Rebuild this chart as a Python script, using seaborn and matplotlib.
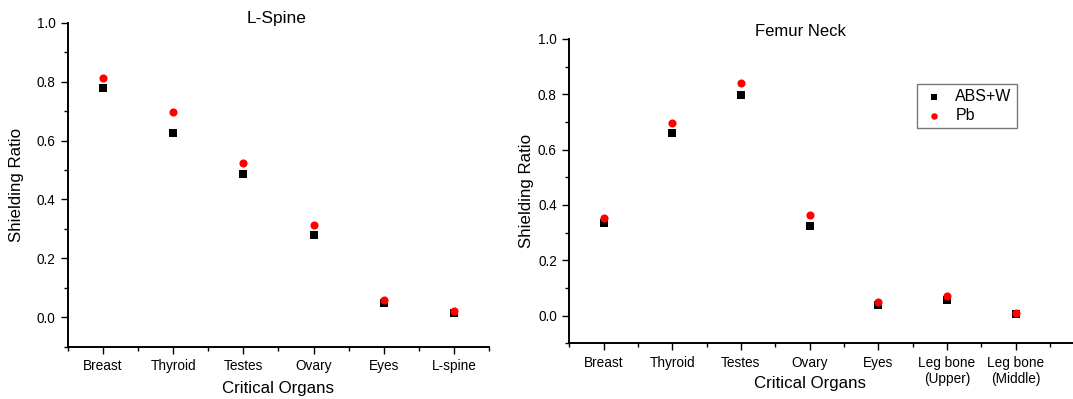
import matplotlib
matplotlib.use("Agg")
import matplotlib.pyplot as plt
from matplotlib.ticker import MultipleLocator, FixedLocator
import seaborn as sns
import pandas as pd

# ---- data ----
organs_l = ["Breast", "Thyroid", "Testes", "Ovary", "Eyes", "L-spine"]
absw_l = [0.779, 0.626, 0.486, 0.278, 0.048, 0.015]
pb_l = [0.811, 0.696, 0.522, 0.312, 0.060, 0.020]

organs_r = ["Breast", "Thyroid", "Testes", "Ovary", "Eyes",
            "Leg bone\n(Upper)", "Leg bone\n(Middle)"]
absw_r = [0.334, 0.662, 0.798, 0.323, 0.037, 0.055, 0.007]
pb_r = [0.353, 0.695, 0.842, 0.362, 0.049, 0.070, 0.011]

series_names = ["ABS+W", "Pb"]
title_l = "L-Spine"
title_r = "Femur Neck"

sns.set_style("ticks")
plt.rcParams["font.family"] = ["Liberation Sans", "DejaVu Sans"]
plt.rcParams["text.color"] = "black"
plt.rcParams["axes.labelcolor"] = "black"
plt.rcParams["xtick.color"] = "black"
plt.rcParams["ytick.color"] = "black"

W, H = 1073, 399
fig = plt.figure(figsize=(W / 100, H / 100), dpi=100)

ax1 = fig.add_axes([68 / W, 1 - 346.7 / H, (489 - 68) / W, (346.7 - 22.7) / H])
ax2 = fig.add_axes([569.3 / W, 1 - 343.3 / H, (W - 569.3) / W, (343.3 - 39) / H])


def draw(ax, organs, a, b, xmax):
    n = len(organs)
    df = pd.DataFrame({
        "organ": organs * 2,
        "x": list(range(n)) * 2,
        "value": a + b,
        "series": [series_names[0]] * n + [series_names[1]] * n,
    })
    sns.scatterplot(data=df[df.series == series_names[0]], x="x", y="value",
                    marker="s", color="black", s=30, linewidth=0, ax=ax,
                    label=series_names[0], zorder=3)
    sns.scatterplot(data=df[df.series == series_names[1]], x="x", y="value",
                    marker="o", color="#ff0000", s=34, linewidth=0, ax=ax,
                    label=series_names[1], zorder=4)
    ax.set_xlim(-0.5, xmax)
    ax.set_ylim(-0.1, 1.0)
    ax.xaxis.set_major_locator(FixedLocator(list(range(n))))
    ax.set_xticklabels(organs)
    ax.xaxis.set_minor_locator(FixedLocator([i - 0.5 for i in range(n + 1)]))
    ax.yaxis.set_major_locator(MultipleLocator(0.2))
    ax.yaxis.set_minor_locator(MultipleLocator(0.1))
    ax.set_yticks([0.0, 0.2, 0.4, 0.6, 0.8, 1.0])
    ax.set_yticklabels(["0.0", "0.2", "0.4", "0.6", "0.8", "1.0"])
    ax.tick_params(axis="both", which="major", direction="out", length=5,
                   width=1, color="black", labelsize=9.8, pad=4)
    ax.tick_params(axis="both", which="minor", direction="out", length=3,
                   width=1, color="black")
    for s in ["top", "right"]:
        ax.spines[s].set_visible(False)
    for s in ["left", "bottom"]:
        ax.spines[s].set_color("black")
        ax.spines[s].set_linewidth(1.4)
    ax.set_xlabel("Critical Organs", fontsize=12.2)
    ax.set_ylabel("Shielding Ratio", fontsize=12.2)
    ax.get_legend().remove()


draw(ax1, organs_l, absw_l, pb_l, 5.5)
draw(ax2, organs_r, absw_r, pb_r, (W - 603.3) / 68.7)

ax1.yaxis.set_label_coords(-0.105, 0.5)
ax1.xaxis.set_label_coords(0.5, -0.106)
ax2.yaxis.set_label_coords(-0.070, 0.5)
ax2.xaxis.set_label_coords(0.478, -0.107)

fig.text(277 / W, 1 - 18 / H, title_l, ha="center", va="center", fontsize=12.5)
fig.text(800 / W, 1 - 31 / H, title_r, ha="center", va="center", fontsize=12)

h, l = ax2.get_legend_handles_labels()
leg = fig.legend(h, l, loc="upper left", bbox_to_anchor=(917 / W, 1 - 84 / H),
                 bbox_transform=fig.transFigure, fontsize=11.5, frameon=True,
                 fancybox=False, markerscale=0.8, handletextpad=0.6,
                 borderpad=0.3, labelspacing=0.25, handlelength=1.5,
                 borderaxespad=0)
leg.get_frame().set_edgecolor("#555555")
leg.get_frame().set_linewidth(1.0)

fig.savefig("out.png", dpi=100)
